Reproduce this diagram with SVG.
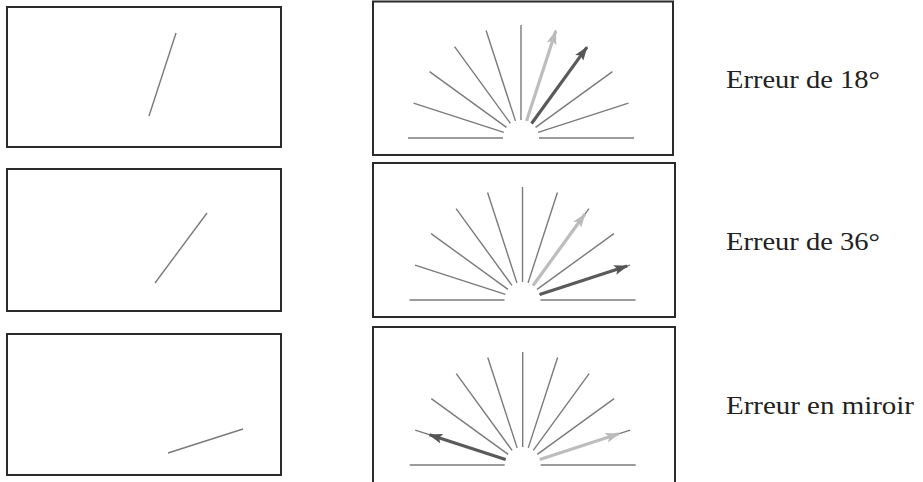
<svg xmlns="http://www.w3.org/2000/svg" xmlns:xlink="http://www.w3.org/1999/xlink" width="923" height="482" viewBox="0 0 923 482">
<style>
.frame{fill:#fff;stroke:#2b2b2b;stroke-width:2}
.thin{stroke:#7a7a7a;stroke-width:1.4;fill:none}
.dark{stroke:#5a5a5a;stroke-width:3.2;fill:none}
.light{stroke:#bdbdbd;stroke-width:3.2;fill:none}
.lbl{font-family:"Liberation Serif","DejaVu Serif",serif;font-size:26px;fill:#222}
</style>
<defs>
<marker id="hd" markerUnits="userSpaceOnUse" markerWidth="14" markerHeight="10" refX="13" refY="5" orient="auto"><path d="M0,0 L14,5 L0,10 L3,5 z" fill="#555"/></marker>
<marker id="hl" markerUnits="userSpaceOnUse" markerWidth="14" markerHeight="10" refX="13" refY="5" orient="auto"><path d="M0,0 L14,5 L0,10 L3,5 z" fill="#bbb"/></marker>
<g id="fan" class="thin">
<line x1="-18" y1="0" x2="-113" y2="0"/>
<line x1="-17.12" y1="-5.56" x2="-107.47" y2="-34.92"/>
<line x1="-14.56" y1="-10.58" x2="-91.42" y2="-66.42"/>
<line x1="-10.58" y1="-14.56" x2="-66.42" y2="-91.42"/>
<line x1="-5.56" y1="-17.12" x2="-34.92" y2="-107.47"/>
<line x1="0" y1="-18" x2="0" y2="-113"/>
<line x1="5.56" y1="-17.12" x2="34.92" y2="-107.47"/>
<line x1="10.58" y1="-14.56" x2="66.42" y2="-91.42"/>
<line x1="14.56" y1="-10.58" x2="91.42" y2="-66.42"/>
<line x1="17.12" y1="-5.56" x2="107.47" y2="-34.92"/>
<line x1="18" y1="0" x2="113" y2="0"/>
</g>
</defs>
<rect width="923" height="482" fill="#fff"/>
<g id="stimulus1"><rect class="frame" x="7" y="7" width="274" height="140"/><line class="thin" x1="176" y1="33" x2="149" y2="116"/></g>
<g id="stimulus2"><rect class="frame" x="7" y="169" width="274" height="142"/><line class="thin" x1="207" y1="213" x2="155" y2="283"/></g>
<g id="stimulus3"><rect class="frame" x="7" y="334" width="274" height="141"/><line class="thin" x1="243" y1="429" x2="168" y2="453"/></g>
<g id="response1"><rect class="frame" x="373" y="1.5" width="300" height="153.5"/><use xlink:href="#fan" x="521" y="138"/></g>
<g id="response2"><rect class="frame" x="373" y="163" width="302" height="154"/><use xlink:href="#fan" x="522.5" y="300"/></g>
<g id="response3"><rect class="frame" x="373" y="327" width="302" height="165"/><use xlink:href="#fan" x="522.7" y="465"/></g>
<g id="connectors">
<line class="light" x1="526.56" y1="120.88" x2="555.61" y2="31.48" marker-end="url(#hl)"/>
<line class="dark" x1="531.58" y1="123.44" x2="586.83" y2="47.39" marker-end="url(#hd)"/>
<line class="light" x1="533.08" y1="285.44" x2="584.81" y2="214.24" marker-end="url(#hl)"/>
<line class="dark" x1="539.62" y1="294.44" x2="627.12" y2="266.01" marker-end="url(#hd)"/>
<line class="dark" x1="505.58" y1="459.44" x2="429.5" y2="434.72" marker-end="url(#hd)"/>
<line class="light" x1="539.82" y1="459.44" x2="618.76" y2="433.79" marker-end="url(#hl)"/>
</g>
<g id="label1"><text class="lbl" x="726" y="88" textLength="154" lengthAdjust="spacingAndGlyphs">Erreur de 18°</text></g>
<g id="label2"><text class="lbl" x="726" y="250" textLength="154" lengthAdjust="spacingAndGlyphs">Erreur de 36°</text></g>
<g id="label3"><text class="lbl" x="726" y="414" textLength="188" lengthAdjust="spacingAndGlyphs">Erreur en miroir</text></g>
</svg>
